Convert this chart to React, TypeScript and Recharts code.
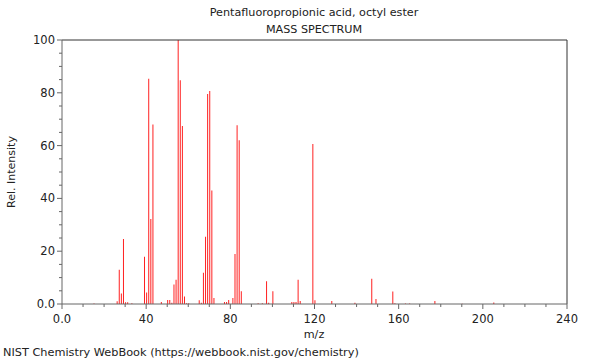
import { ComposedChart, Bar, XAxis, YAxis, ReferenceLine } from "recharts";

// peaks (m/z, relative intensity)
const mz = [15, 26, 27, 28, 29, 30, 31, 33, 39, 40, 41, 42, 43, 47, 50, 51, 52, 53, 54, 55, 56, 57, 58, 59, 60, 65, 66, 67, 68, 69, 70, 71, 72, 77, 78, 79, 81, 82, 83, 84, 85, 93, 95, 97, 98, 100, 109, 110, 111, 112, 113, 119, 120, 128, 139, 147, 149, 157, 158, 163, 165, 177, 190, 205];
const intensity = [0.2, 1, 13, 4, 24.6, 0.7, 0.7, 0.3, 17.9, 4.4, 85.3, 32.2, 68, 0.8, 1.5, 1.5, 0.5, 7.4, 9.2, 100, 84.8, 67.4, 2.8, 0.3, 0.3, 1.4, 0.5, 11.8, 25.5, 79.5, 80.7, 43, 2.3, 0.8, 0.8, 1.5, 2.3, 18.9, 67.7, 62, 4.8, 0.3, 0.3, 8.6, 0.5, 4.8, 0.8, 0.8, 0.8, 9.2, 1.1, 60.6, 1.4, 1.1, 0.5, 9.6, 1.9, 4.7, 0.3, 0.2, 0.2, 1.1, 0.1, 0.6];

const xTicks = [0, 10, 20, 30, 40, 50, 60, 70, 80, 90, 100, 110, 120, 130, 140, 150, 160, 170, 180, 190, 200, 210, 220, 230, 240];
const yTicks = [0, 5, 10, 15, 20, 25, 30, 35, 40, 45, 50, 55, 60, 65, 70, 75, 80, 85, 90, 95, 100];

const spectrum = mz.map((m, i) => ({ mz: m, rel: intensity[i] }));

const FONT = "'DejaVu Sans', sans-serif";
const AXIS = "#666";

const fmt = (v: number) => (v === 0 ? "0.0" : String(v));

function XTick(props: any) {
  const { x, y, payload } = props;
  const major = payload.value % 40 === 0;
  const y0 = y - 7;
  return (
    <g>
      <line x1={x} x2={x} y1={y0} y2={y0 + (major ? 5 : 3)} stroke={AXIS} />
      {major && (
        <text x={x} y={y0 + 19} textAnchor="middle" fontSize={11.5} fill="#222" fontFamily={FONT}>
          {fmt(payload.value)}
        </text>
      )}
    </g>
  );
}

function YTick(props: any) {
  const { x, y, payload } = props;
  const major = payload.value % 20 === 0;
  const x0 = x + 7;
  return (
    <g>
      <line x1={x0} x2={x0 - (major ? 5 : 3)} y1={y} y2={y} stroke={AXIS} />
      {major && (
        <text x={x0 - 7} y={y + 4} textAnchor="end" fontSize={11.5} fill="#222" fontFamily={FONT}>
          {fmt(payload.value)}
        </text>
      )}
    </g>
  );
}

export default function App() {
  return (
    <div style={{ position: "absolute", left: 0, top: 0, width: 600, height: 360, background: "#fff", fontFamily: FONT, color: "#222" }}>
      <div style={{ position: "absolute", top: 6, left: 14, width: 600, textAlign: "center", fontSize: 11.2 }}>
        Pentafluoropropionic acid, octyl ester
      </div>
      <div style={{ position: "absolute", top: 23, left: 14, width: 600, textAlign: "center", fontSize: 11.2 }}>
        MASS SPECTRUM
      </div>
      <ComposedChart width={600} height={360} data={spectrum} margin={{ top: 40, right: 33, bottom: 26, left: 12 }}>
        <XAxis
          dataKey="mz"
          type="number"
          domain={[0, 240]}
          ticks={xTicks}
          interval={0}
          tickLine={false}
          tickSize={5}
          tickMargin={2}
          tick={<XTick />}
          axisLine={{ stroke: AXIS }}
          height={30}
          allowDataOverflow
        />
        <YAxis
          type="number"
          domain={[0, 100]}
          ticks={yTicks}
          interval={0}
          tickLine={false}
          tickSize={5}
          tickMargin={2}
          tick={<YTick />}
          axisLine={{ stroke: AXIS }}
          width={50}
          allowDataOverflow
        />
        <ReferenceLine y={100} stroke="#333" />
        <ReferenceLine x={240} stroke="#333" />
        <Bar dataKey="rel" fill="#ff2020" barSize={1} isAnimationActive={false} />
      </ComposedChart>
      <div style={{ position: "absolute", top: 328, left: 264, width: 100, textAlign: "center", fontSize: 11.2 }}>m/z</div>
      <div
        style={{ position: "absolute", left: 11, top: 172, fontSize: 11, whiteSpace: "nowrap", transform: "translate(-50%, -50%) rotate(-90deg)" }}
      >
        Rel. Intensity
      </div>
      <div style={{ position: "absolute", left: 3, top: 346, fontSize: 11.3, whiteSpace: "nowrap" }}>
        NIST Chemistry WebBook (https://webbook.nist.gov/chemistry)
      </div>
    </div>
  );
}
